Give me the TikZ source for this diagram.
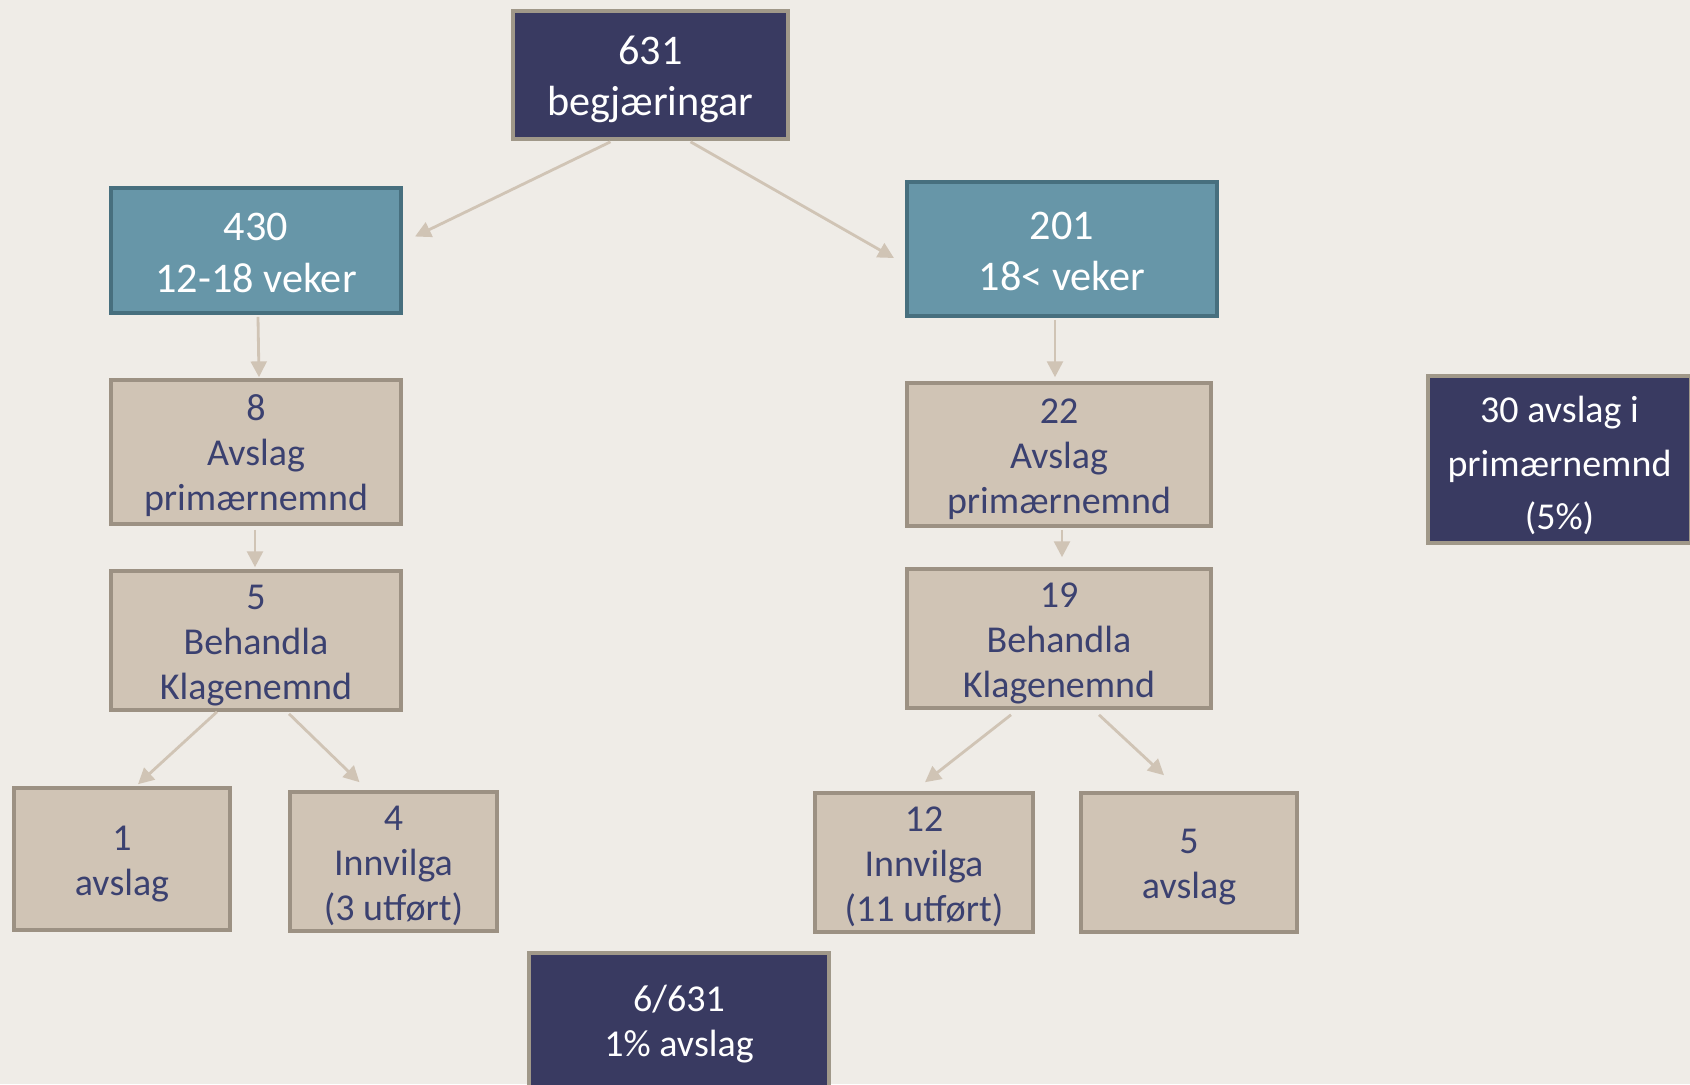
\documentclass[tikz,border=0pt]{standalone}
\usepackage{fontspec}
\setmainfont{Carlito}
\usetikzlibrary{arrows.meta,calc}
\definecolor{bgcol}{HTML}{EFECE7}
\definecolor{navy}{HTML}{393A61}
\definecolor{navyline}{HTML}{A09889}
\definecolor{teal}{HTML}{6796A8}
\definecolor{tealline}{HTML}{476F7E}
\definecolor{beige}{HTML}{D0C4B5}
\definecolor{beigeline}{HTML}{9C9183}
\definecolor{ink}{HTML}{3B4170}
\newcommand{\lift}[1]{\rule{0pt}{#1}}
\begin{document}
\begin{tikzpicture}
	[x=0.01cm, y=-0.01cm,
	darkbox/.style={draw=navyline,fill=navy,line width=1pt,text=white,align=center,inner sep=0pt},
	weekbox/.style={draw=tealline,fill=teal,line width=1.1pt,text=white,align=center,inner sep=0pt,
		font=\fontsize{12}{14.6}\selectfont},
	casebox/.style={draw=beigeline,fill=beige,line width=1pt,text=ink,align=center,inner sep=0pt,
		font=\fontsize{10.8}{12.8}\selectfont},
	flow/.style={beige,line width=0.8pt,-{Triangle[length=4.5pt,width=4.5pt]}}]
	\fill[bgcol] (0,0) rectangle (1690,1084);
	\useasboundingbox (0,0) rectangle (1690,1084);

	% Top
	\node[darkbox,minimum width=2.75cm,minimum height=1.28cm,font=\fontsize{12}{14.6}\selectfont]
		(top) at (650.5,75) {\lift{10.7pt}631\\begjæringar};

	% Waiting time
	\node[weekbox,minimum width=2.90cm,minimum height=1.25cm] (n430) at (256,250.5) {\lift{9.1pt}430\\12-18 veker};
	\node[weekbox,minimum width=3.10cm,minimum height=1.34cm] (n201) at (1062,249) {\lift{9.1pt}201\\18< veker};

	% Primary board
	\node[casebox,minimum width=2.90cm,minimum height=1.44cm] (n8) at (256,452) {\lift{9.6pt}8\\Avslag\\primærnemnd};
	\node[casebox,minimum width=3.04cm,minimum height=1.43cm] (n22) at (1059,454.5) {\lift{9.6pt}22\\Avslag\\primærnemnd};

	% Appeals board
	\node[casebox,minimum width=2.90cm,minimum height=1.39cm] (n5l) at (256,640.5) {\lift{9.6pt}5\\Behandla\\Klagenemnd};
	\node[casebox,minimum width=3.04cm,minimum height=1.39cm] (n19) at (1059,638.5) {\lift{9.6pt}19\\Behandla\\Klagenemnd};

	% Outcomes
	\node[casebox,minimum width=2.16cm,minimum height=1.42cm] (n1) at (122,859) {\lift{9.6pt}1\\avslag};
	\node[casebox,minimum width=2.07cm,minimum height=1.39cm] (n4) at (393.5,861.5) {\lift{9.6pt}4\\Innvilga\\(3 utført)};
	\node[casebox,minimum width=2.18cm,minimum height=1.39cm] (n12) at (924,862.5) {\lift{9.6pt}12\\Innvilga\\(11 utført)};
	\node[casebox,minimum width=2.16cm,minimum height=1.39cm] (n5r) at (1189,862.5) {\lift{9.6pt}5\\avslag};

	% Totals
	\node[darkbox,minimum width=2.63cm,minimum height=1.67cm,font=\fontsize{10.8}{15.2}\selectfont]
		(n30) at (1559.5,459.5) {\lift{11pt}30 avslag i\\primærnemnd\\(5\%)};
	\node[darkbox,minimum width=3.00cm,minimum height=1.34cm,font=\fontsize{10.8}{12.9}\selectfont]
		(n6) at (679,1020) {\lift{9.7pt}6/631\\1\% avslag};

	% Arrows
	\draw[flow] ($(top.south)+(-40,1)$) -- ($(n430.east)+(12,-14)$);
	\draw[flow] ($(top.south)+(40,1)$) -- ($(n201.west)+(-11,9)$);
	\draw[flow] ($(n430.south)+(2,2)$) -- ($(n8.north)+(3,-1)$);
	\draw[flow] ($(n8.south)+(-1,4)$) -- ($(n5l.north)+(-1,-2)$);
	\draw[flow] ($(n5l.south)+(-39,0)$) -- ($(n1.north)+(16,-2)$);
	\draw[flow] ($(n5l.south)+(33,2)$) -- ($(n4.north)+(-34,-8)$);
	\draw[flow] ($(n201.south)+(-7,2)$) -- ($(n22.north)+(-4,-4)$);
	\draw[flow] ($(n22.south)+(3,2)$) -- ($(n19.north)+(3,-10)$);
	\draw[flow] ($(n19.south)+(-48,5)$) -- ($(n12.north)+(1,-9)$);
	\draw[flow] ($(n19.south)+(40,5)$) -- ($(n5r.north)+(-25,-16)$);
\end{tikzpicture}
\end{document}
